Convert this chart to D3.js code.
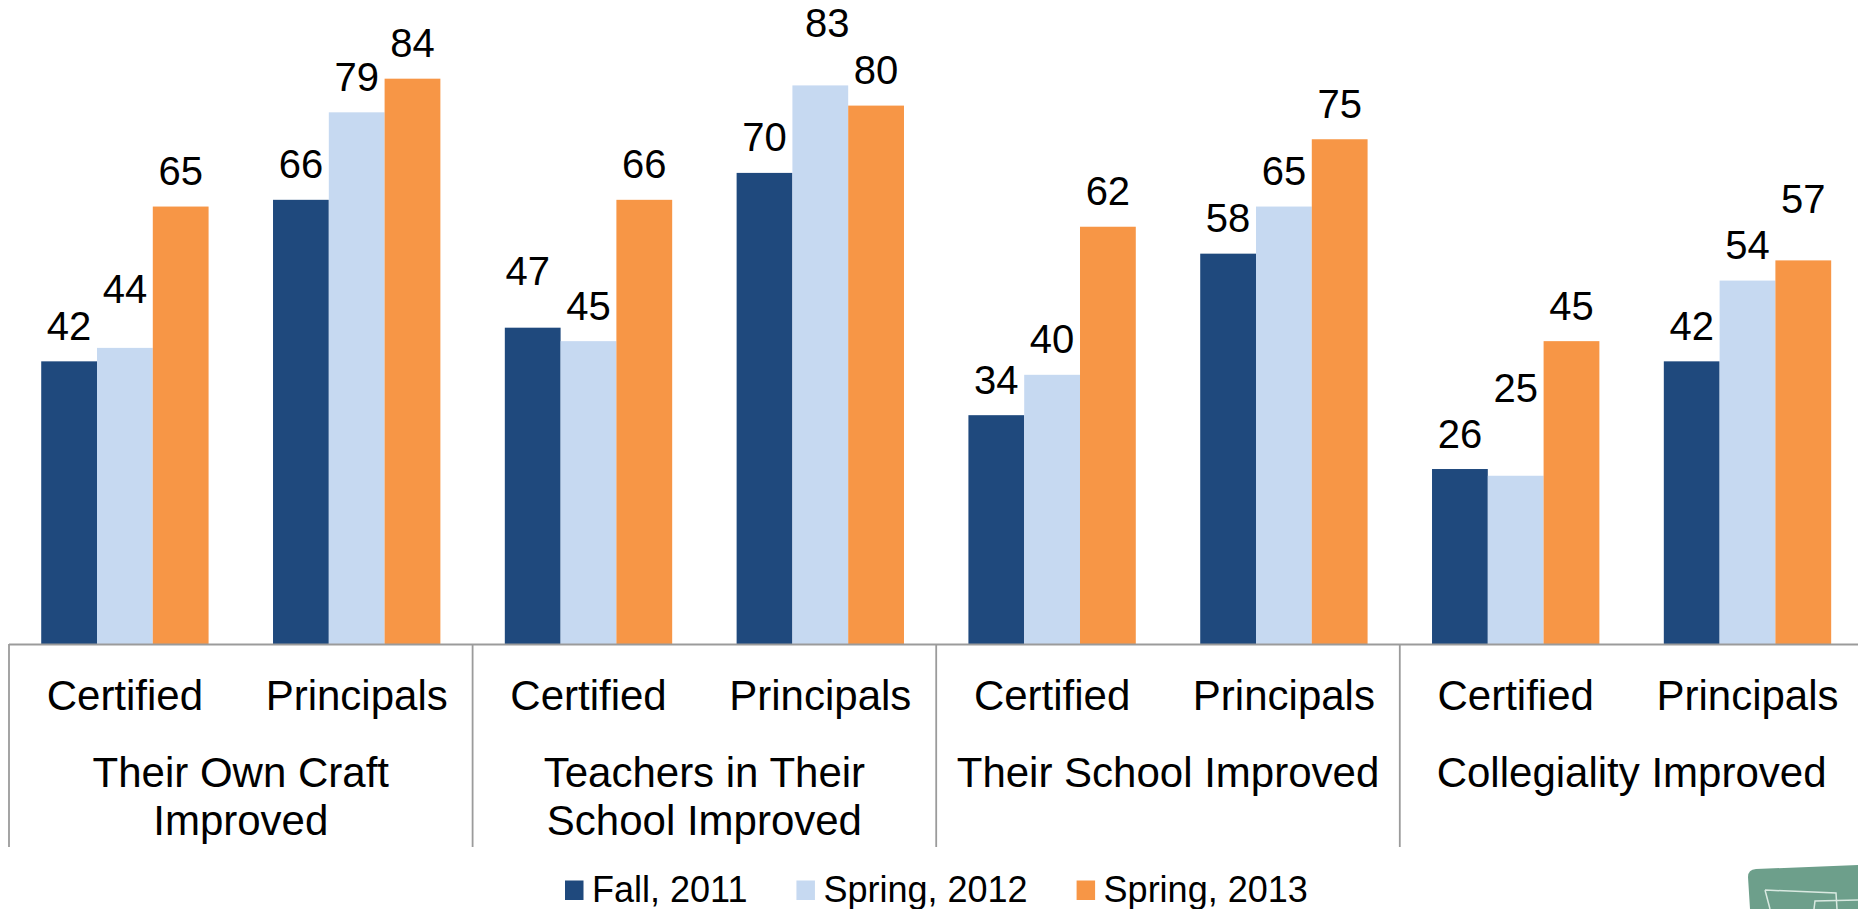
<!DOCTYPE html>
<html>
<head>
<meta charset="utf-8">
<script src="https://cdn.jsdelivr.net/npm/d3@7"></script>
<style>
  html, body { margin: 0; padding: 0; background: #ffffff; }
  svg { display: block; }
  text { font-family: "Liberation Sans", Arial, Helvetica, sans-serif; fill: #000; }
</style>
</head>
<body>
<svg id="chart" width="1858" height="909"></svg>
<script>
// Survey outcome groups and the respondent type within each group
const groups = ["Their Own Craft Improved", "Teachers in Their School Improved",
                "Their School Improved", "Collegiality Improved"];
const respondents = ["Certified", "Principals"];

// Survey waves
const seriesNames = ["Fall, 2011", "Spring, 2012", "Spring, 2013"];

// Percent agreeing, in order: group 1 Certified, group 1 Principals, group 2 Certified, ...
const fall2011   = [42, 66, 47, 70, 34, 58, 26, 42];
const spring2012 = [44, 79, 45, 83, 40, 65, 25, 54];
const spring2013 = [65, 84, 66, 80, 62, 75, 45, 57];

const seriesValues = [fall2011, spring2012, spring2013];
const colors = ["#1F497D", "#C6D9F1", "#F79646"];

// Hand-placed value labels (extra lift / horizontal shift in px)
const labelNudge = {
  "1-0": { dy: 23 },
  "0-2": { dy: 21, dx: -5 },
  "1-3": { dy: 27, dx: 7 },
  "1-6": { dy: 52 },
  "2-7": { dy: 26 }
};

const svg = d3.select("#chart");

const baseY = 644;
const axisLeft = 9;
const groupW = 463.6;

const x0 = d3.scaleBand().domain(groups)
  .range([axisLeft, axisLeft + groupW * groups.length]).padding(0);
const x1 = d3.scaleBand().domain(respondents)
  .range([0, x0.bandwidth()]).padding(0);
const x2 = d3.scaleBand().domain(seriesNames)
  .range([0, x1.bandwidth()]).paddingInner(0).paddingOuter(0.5775);
const y = d3.scaleLinear().domain([0, 90]).range([baseY, baseY - 90 * 6.73]);

// Flatten to one record per bar
const bars = [];
groups.forEach((g, gi) => {
  respondents.forEach((r, ri) => {
    const idx = gi * respondents.length + ri;
    seriesNames.forEach((s, si) => {
      bars.push({ group: g, resp: r, series: s, si, idx, value: seriesValues[si][idx] });
    });
  });
});

const barX = d => x0(d.group) + x1(d.resp) + x2(d.series);

svg.append("g").selectAll("rect")
  .data(bars)
  .join("rect")
  .attr("x", barX)
  .attr("y", d => y(d.value))
  .attr("width", x2.bandwidth())
  .attr("height", d => y(0) - y(d.value))
  .attr("fill", d => colors[d.si]);

// Value labels
svg.append("g").selectAll("text")
  .data(bars)
  .join("text")
  .attr("x", d => barX(d) + x2.bandwidth() / 2 + ((labelNudge[d.si + "-" + d.idx] || {}).dx || 0))
  .attr("y", d => y(d.value) - 21.5 - ((labelNudge[d.si + "-" + d.idx] || {}).dy || 0))
  .attr("text-anchor", "middle")
  .attr("font-size", 40)
  .text(d => d.value);

// Category axis: baseline plus group dividers
const axisColor = "#9b9b9b";
const axisBottom = 847;
const axisG = svg.append("g");
axisG.append("line")
  .attr("x1", axisLeft).attr("x2", x0.range()[1])
  .attr("y1", baseY + 0.5).attr("y2", baseY + 0.5)
  .attr("stroke", axisColor).attr("stroke-width", 1.8);
axisG.selectAll("line.div")
  .data(groups.concat(["_end"]))
  .join("line")
  .attr("class", "div")
  .attr("x1", (d, i) => axisLeft + i * x0.bandwidth())
  .attr("x2", (d, i) => axisLeft + i * x0.bandwidth())
  .attr("y1", baseY)
  .attr("y2", axisBottom)
  .attr("stroke", axisColor).attr("stroke-width", 1.8);

// Respondent labels
const respLabels = [];
groups.forEach(g => respondents.forEach(r => respLabels.push({ g, r })));
axisG.selectAll("text.resp")
  .data(respLabels)
  .join("text")
  .attr("class", "resp")
  .attr("x", d => x0(d.g) + x1(d.r) + x1.bandwidth() / 2)
  .attr("y", 710)
  .attr("text-anchor", "middle")
  .attr("font-size", 42)
  .text(d => d.r);

// Group labels, word-wrapped to the group width
const maxLine = groupW - 22;
groups.forEach(g => {
  const cx = x0(g) + x0.bandwidth() / 2;
  const t = axisG.append("text")
    .attr("x", cx)
    .attr("y", 786.5)
    .attr("text-anchor", "middle")
    .attr("font-size", 42);
  const words = g.split(" ");
  let line = [];
  let tspan = t.append("tspan").attr("x", cx).attr("dy", 0);
  words.forEach(w => {
    line.push(w);
    tspan.text(line.join(" "));
    if (tspan.node().getComputedTextLength() > maxLine && line.length > 1) {
      line.pop();
      tspan.text(line.join(" "));
      line = [w];
      tspan = t.append("tspan").attr("x", cx).attr("dy", 48.5).text(w);
    }
  });
});

// Legend
const legend = svg.append("g");
let lx = 565;
seriesNames.forEach((s, i) => {
  legend.append("rect")
    .attr("x", lx).attr("y", 880.5)
    .attr("width", 18.5).attr("height", 19.5)
    .attr("fill", colors[i]);
  const tx = legend.append("text")
    .attr("x", lx + 27).attr("y", 901.5)
    .attr("font-size", 36)
    .text(s);
  lx += 27 + tx.node().getComputedTextLength() + 49;
});

// Corner logo mark
const logo = svg.append("g");
logo.append("path")
  .attr("d", "M1756,869 L1858,865 L1858,909 L1750,909 L1748,877 Q1748,869.5 1756,869 Z")
  .attr("fill", "#6d9f8b");
logo.append("path")
  .attr("d", "M1765,890 L1836,893 L1837,909 M1765,890 L1770,909")
  .attr("fill", "none").attr("stroke", "#d9e9e1").attr("stroke-width", 1.5);
logo.append("path")
  .attr("d", "M1814,909 L1815,901 L1858,900")
  .attr("fill", "none").attr("stroke", "#d9e9e1").attr("stroke-width", 1.5);
</script>
</body>
</html>
